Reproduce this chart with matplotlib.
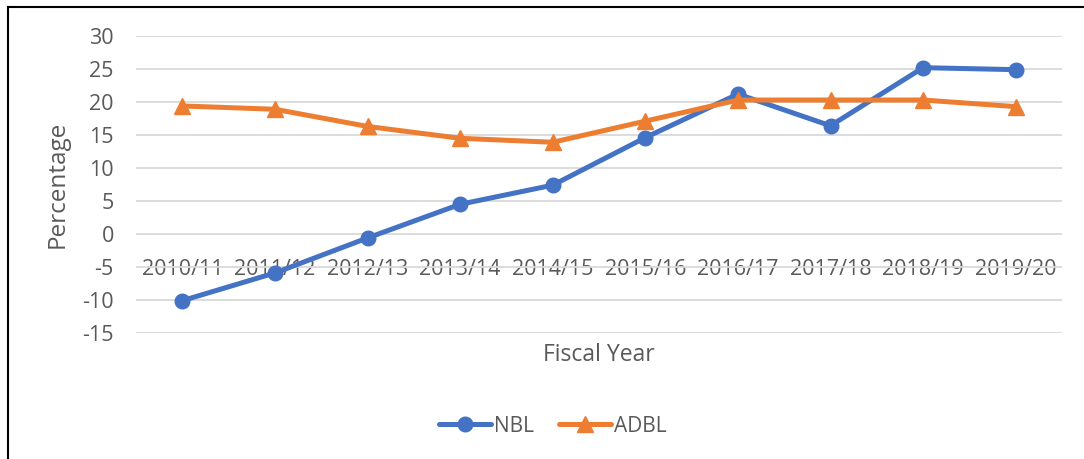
import matplotlib.pyplot as plt
from matplotlib.lines import Line2D

# ---- Data
years = ["2010/11", "2011/12", "2012/13", "2013/14", "2014/15",
         "2015/16", "2016/17", "2017/18", "2018/19", "2019/20"]
nbl = [-10.1, -5.9, -0.6, 4.5, 7.4, 14.6, 21.2, 16.4, 25.2, 24.9]
adbl = [19.4, 18.9, 16.3, 14.5, 13.9, 17.1, 20.3, 20.3, 20.3, 19.3]

# ---- Style
blue = "#4472C4"
orange = "#ED7D31"
text_col = "#595959"
grid_col = "#D9D9D9"
plt.rcParams['font.family'] = ['Open Sans', 'DejaVu Sans']
plt.rcParams['axes.unicode_minus'] = False

fig = plt.figure(figsize=(10.84, 4.59), dpi=100)
ax = fig.add_axes([136/1084, 1 - 333/459, 926/1084, 297/459])

x = list(range(len(years)))
ax.plot(x, nbl, color=blue, lw=3.6, marker="o", markersize=10.5,
        label="NBL", solid_capstyle="round")
ax.plot(x, adbl, color=orange, lw=3.6, marker="^", markersize=11,
        label="ADBL", solid_capstyle="round")

ax.set_xlim(-0.5, len(years) - 0.5)
ax.set_ylim(-15, 30)
ax.set_yticks(range(-15, 31, 5))
ax.set_xticks(x)
ax.set_xticklabels(years)

# gridlines only, no frame
ax.grid(axis="y", color=grid_col, lw=1.3)
ax.set_axisbelow(True)
for s in ax.spines.values():
    s.set_visible(False)
# category labels sit just under the zero line, like Excel
ax.spines['bottom'].set_position(('data', 0))
ax.tick_params(axis="both", length=0, labelsize=15.5, labelcolor=text_col)
ax.tick_params(axis="x", pad=18)
ax.tick_params(axis="y", pad=16)

ax.set_ylabel("Percentage", fontsize=17.5, color=text_col)
ax.yaxis.set_label_coords(-0.072, 0.5)
ax.text(0.5, -0.074, "Fiscal Year", transform=ax.transAxes,
        ha="center", va="center", fontsize=16.5, color=text_col)

fig.legend(loc="center", bbox_to_anchor=(553/1084, 1 - 426/459), ncol=2,
           frameon=False, fontsize=15, labelcolor=text_col,
           handlelength=2.5, handletextpad=0.15, columnspacing=1.2)

# outer chart border (left and top edges only show in the reference)
fig.add_artist(Line2D([8/1084, 8/1084], [0, 1 - 7/459], color="black",
                      lw=1.5, transform=fig.transFigure))
fig.add_artist(Line2D([8/1084, 1], [1 - 7/459, 1 - 7/459], color="black",
                      lw=1.5, transform=fig.transFigure))

fig.savefig("out.png", dpi=100)
